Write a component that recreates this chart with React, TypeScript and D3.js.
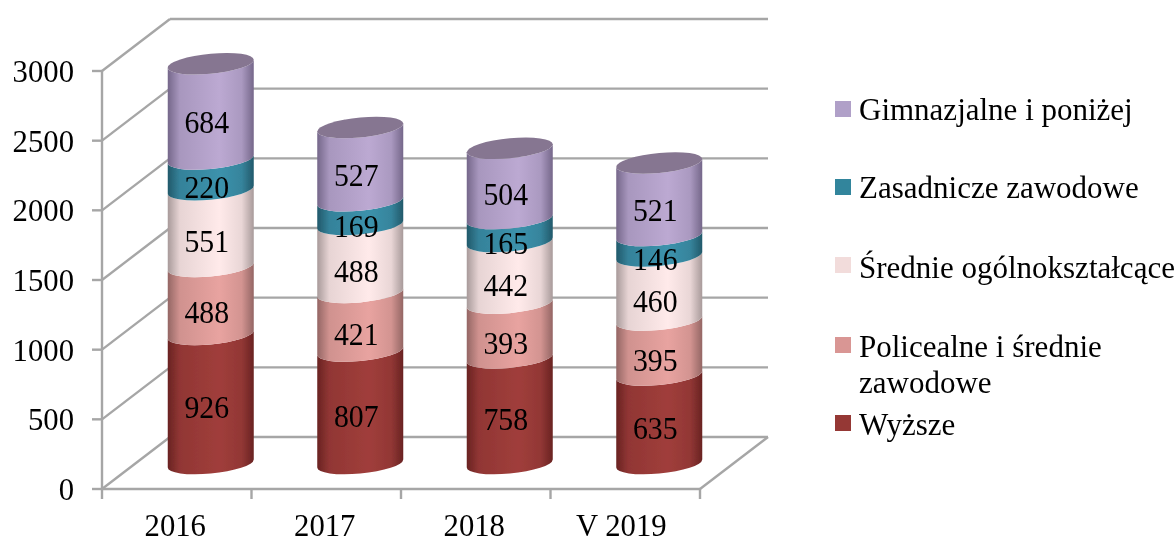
import React from 'react'
import * as d3 from 'd3'

const categories = ['2016', '2017', '2018', 'V 2019']
const wyzsze = [926, 807, 758, 635]
const policealne = [488, 421, 393, 395]
const srednie = [551, 488, 442, 460]
const zasadnicze = [220, 169, 165, 146]
const gimnazjalne = [684, 527, 504, 521]
const yTicks = [0, 500, 1000, 1500, 2000, 2500, 3000]

const seriesValues = [wyzsze, policealne, srednie, zasadnicze, gimnazjalne]
const seriesKeys = ['wyzsze', 'policealne', 'srednie', 'zasadnicze', 'gimnazjalne']
// dark edge, lit centre, legend swatch
const edgeColors = ['#692322', '#946664', '#a89a9a', '#22596a', '#75678a']
const litColors = ['#a03e3b', '#e8a3a0', '#ffeaea', '#3c92ac', '#bca9d2']
const swatchColors = ['#953735', '#d99694', '#f2dcdb', '#31859c', '#b0a0c8']
const legendLines = [
  ['Gimnazjalne i poniżej'],
  ['Zasadnicze zawodowe'],
  ['Średnie ogólnokształcące'],
  ['Policealne i średnie', 'zawodowe'],
  ['Wyższe'],
]
const legendBaselines = [120, 198, 278, 357, 435]
const legendSwatchTops = [101, 179, 257, 337, 415]
// data labels sit a little off the segment middle in the source
const labelNudge = [-2.5, 1, 2, 2, 0]

const width = 1175
const height = 539
const depthX = 68
const depthY = 52
const rx = 43
const ry = 10
const skew = -5.3
const grid = '#a6a6a6'
const serif = '"Liberation Serif", "Times New Roman", serif'

const y = d3.scaleLinear().domain([0, 3000]).range([489, 71])
const x = d3.scaleBand().domain(categories).range([102, 700])
const pxPerUnit = y(0) - y(1)

// tall narrow digits, as in the source image
function Num({ tx, ty, anchor = 'middle', size, sx, children }: any) {
  return (
    <text
      transform={`translate(${tx},${ty}) scale(${sx},1)`}
      textAnchor={anchor}
      fontFamily={serif}
      fontSize={size}
      fill="#000"
    >
      {children}
    </text>
  )
}

export default function App() {
  const cyl0 = y(0) - 25.5
  const xTicks = [...categories.map(c => x(c)!), 700]
  return (
    <svg width={width} height={height} style={{ position: 'absolute', left: 0, top: 0 }}>
      <defs>
        <filter id="soft" x="-2%" y="-2%" width="104%" height="104%">
          <feGaussianBlur stdDeviation="0.45" />
        </filter>
        {seriesKeys.map((k, i) => (
          <linearGradient key={k} id={`g-${k}`} x1="0" x2="1" y1="0" y2="0">
            <stop offset="0" stopColor={edgeColors[i]} />
            <stop offset="0.14" stopColor={d3.interpolateRgb(edgeColors[i], litColors[i])(0.72)} />
            <stop offset="0.6" stopColor={litColors[i]} />
            <stop offset="0.86" stopColor={d3.interpolateRgb(edgeColors[i], litColors[i])(0.75)} />
            <stop offset="1" stopColor={edgeColors[i]} />
          </linearGradient>
        ))}
      </defs>

      <g filter="url(#soft)">
        <g stroke={grid} strokeWidth={2.4} fill="none">
          {/* walls */}
          {yTicks.map(t => (
            <g key={t}>
              <line x1={92} x2={102} y1={y(t)} y2={y(t)} />
              <line x1={102} x2={102 + depthX} y1={y(t)} y2={y(t) - depthY} />
              <line x1={102 + depthX} x2={700 + depthX} y1={y(t) - depthY} y2={y(t) - depthY} />
            </g>
          ))}
          <line x1={102} x2={102} y1={y(3000)} y2={y(0)} />
          <line x1={102} x2={700} y1={y(0)} y2={y(0)} />
          <line x1={700} x2={700 + depthX} y1={y(0)} y2={y(0) - depthY} />
          {xTicks.map((t, i) => (
            <line key={i} x1={t} x2={t} y1={y(0)} y2={y(0) + 10} />
          ))}
        </g>

        {/* cylinders */}
        {categories.map((c, ci) => {
          const cx = x(c)! + x.bandwidth() / 2 + 34
          let sum = 0
          const segs = seriesValues.map((vals, si) => {
            const yb = cyl0 - sum * pxPerUnit
            sum += vals[ci]
            const yt = cyl0 - sum * pxPerUnit
            return { si, yb, yt, v: vals[ci] }
          })
          const topY = segs[segs.length - 1].yt
          return (
            <g key={c}>
              <g transform={`translate(${cx},0) skewY(${skew})`}>
                {segs.map(s => (
                  <path
                    key={s.si}
                    fill={`url(#g-${seriesKeys[s.si]})`}
                    d={`M${-rx},${s.yb}A${rx},${ry} 0 0 0 ${rx},${s.yb}L${rx},${s.yt}A${rx},${ry} 0 0 1 ${-rx},${s.yt}Z`}
                  />
                ))}
                <ellipse cx={0} cy={topY} rx={rx} ry={ry} fill="#867691" />
              </g>
              {segs.map(s => (
                <Num key={s.si} tx={cx - 4} ty={(s.yb + s.yt) / 2 + 22 + labelNudge[s.si]} size={32} sx={0.93}>
                  {s.v}
                </Num>
              ))}
            </g>
          )
        })}

        {/* axis labels */}
        {yTicks.map(t => (
          <Num key={t} tx={74} ty={y(t) + 11} anchor="end" size={32} sx={0.96}>
            {t}
          </Num>
        ))}
        {categories.map(c => (
          <Num key={c} tx={x(c)! + x.bandwidth() / 2 - (c.length > 4 ? 4 : 1.5)} ty={536} size={32} sx={0.96}>
            {c}
          </Num>
        ))}

        {/* legend */}
        {legendLines.map((lines, i) => (
          <g key={i}>
            <rect
              x={835}
              y={legendSwatchTops[i]}
              width={16}
              height={16}
              fill={swatchColors[swatchColors.length - 1 - i]}
            />
            {lines.map((l, j) => (
              <text key={j} x={859} y={legendBaselines[i] + j * 35.5} fontFamily={serif} fontSize={31} fill="#000">
                {l}
              </text>
            ))}
          </g>
        ))}
      </g>
    </svg>
  )
}
